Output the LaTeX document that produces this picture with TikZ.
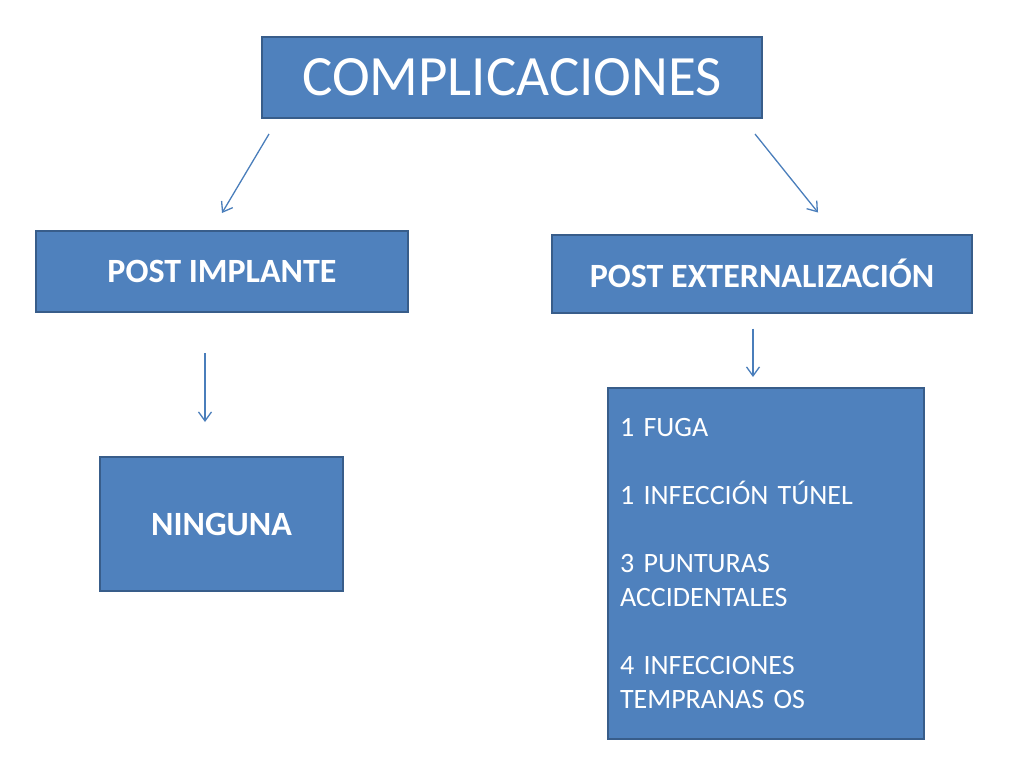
\documentclass[tikz,border=0pt]{standalone}
\usepackage{fontspec}
\setmainfont{Carlito}
\usetikzlibrary{arrows.meta}
\definecolor{cajaazul}{HTML}{4F81BD}
\definecolor{bordeazul}{HTML}{385D8A}
\definecolor{flechaazul}{HTML}{4A7EBB}
\tikzset{
  caja/.style={draw=bordeazul, line width=2pt, fill=cajaazul, text=white, inner sep=0pt},
  flecha/.style={draw=flechaazul, line width=1.3pt, -{Straight Barb[length=9pt,width=13pt]}}
}
\begin{document}
\begin{tikzpicture}[x=1pt,y=-1pt]  % 1 unidad = 1 px del original

    \useasboundingbox (0,0) rectangle (1024,768);

    % caja principal
    \node[caja, minimum width=500pt, minimum height=81pt, font=\fontsize{57}{60}\selectfont] (comp) at (512,77.5) {COMPLICACIONES};

    % las dos ramas
    \node[caja, minimum width=372pt, minimum height=81pt, font=\bfseries\fontsize{34}{38}\selectfont] (impl) at (222,271.5) {POST IMPLANTE};
    \node[caja, minimum width=420pt, minimum height=78pt, font=\bfseries\fontsize{34}{38}\selectfont] (ext) at (762,273.5) {POST EXTERNALIZACIÓN};

    % resultados
    \node[caja, minimum width=243pt, minimum height=134pt, font=\bfseries\fontsize{34}{38}\selectfont] (ning) at (221.5,524) {NINGUNA};
    \node[caja, minimum width=316pt, minimum height=351pt, text width=292pt, inner xsep=12pt, align=left,
          font=\fontsize{28}{34}\selectfont] (lista) at (766,563.5)
          {1 FUGA\\[34pt]1 INFECCIÓN TÚNEL\\[34pt]3 PUNTURAS\\ACCIDENTALES\\[34pt]4 INFECCIONES\\TEMPRANAS OS};

    % flechas
    \draw[flecha] ([xshift=8pt,yshift=-15pt]comp.south west) -- ([yshift=17pt]impl.north);
    \draw[flecha] ([xshift=-8pt,yshift=-15pt]comp.south east) -- ([xshift=56pt,yshift=21pt]ext.north);
    \draw[flecha] ([xshift=-17pt,yshift=-40pt]impl.south) -- ([xshift=-16.5pt,yshift=34pt]ning.north);
    \draw[flecha] ([xshift=-9pt,yshift=-15pt]ext.south) -- ([xshift=-13pt,yshift=10pt]lista.north);

\end{tikzpicture}
\end{document}
